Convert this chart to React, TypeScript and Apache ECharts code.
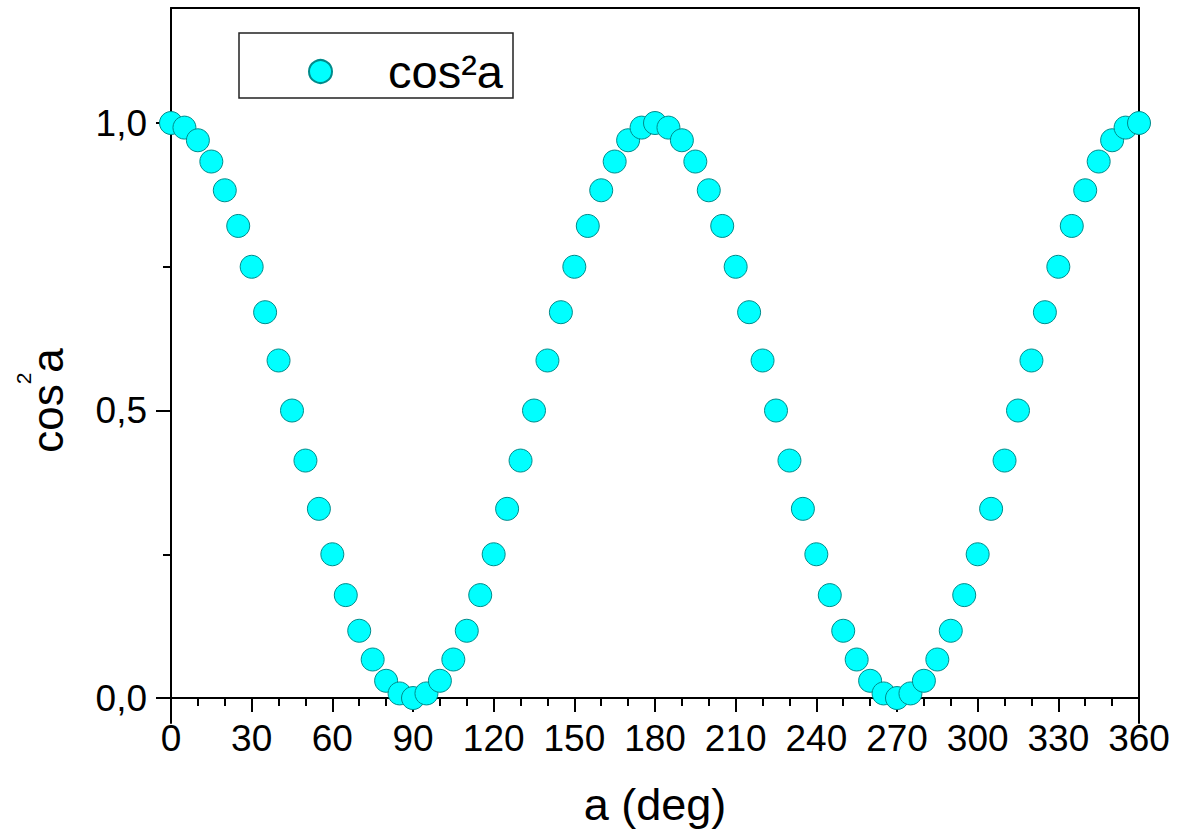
import React, { useEffect, useRef } from "react";
import * as echarts from "echarts";

const FONT = "'Liberation Sans', Arial, sans-serif";

const angles = [
  0, 5, 10, 15, 20, 25, 30, 35, 40, 45, 50, 55, 60, 65, 70, 75, 80, 85, 90,
  95, 100, 105, 110, 115, 120, 125, 130, 135, 140, 145, 150, 155, 160, 165, 170, 175, 180,
  185, 190, 195, 200, 205, 210, 215, 220, 225, 230, 235, 240, 245, 250, 255, 260, 265, 270,
  275, 280, 285, 290, 295, 300, 305, 310, 315, 320, 325, 330, 335, 340, 345, 350, 355, 360,
];

const cos2 = [
  1.0, 0.992, 0.97, 0.933, 0.883, 0.821, 0.75, 0.671, 0.587, 0.5, 0.413, 0.329, 0.25, 0.179, 0.117, 0.067, 0.03, 0.008, 0.0,
  0.008, 0.03, 0.067, 0.117, 0.179, 0.25, 0.329, 0.413, 0.5, 0.587, 0.671, 0.75, 0.821, 0.883, 0.933, 0.97, 0.992, 1.0,
  0.992, 0.97, 0.933, 0.883, 0.821, 0.75, 0.671, 0.587, 0.5, 0.413, 0.329, 0.25, 0.179, 0.117, 0.067, 0.03, 0.008, 0.0,
  0.008, 0.03, 0.067, 0.117, 0.179, 0.25, 0.329, 0.413, 0.5, 0.587, 0.671, 0.75, 0.821, 0.883, 0.933, 0.97, 0.992, 1.0,
];

const yMajorTicks = [0, 0.5, 1.0];
const yMinorTicks = [0.25, 0.75];
const seriesName = "cos²a";

export default function App() {
  const ref = useRef<HTMLDivElement>(null);

  useEffect(() => {
    document.body.style.margin = "0";
    if (!ref.current) return;
    const chart = echarts.init(ref.current, undefined, { renderer: "svg" });
    const axisLineStyle = { color: "#000", width: 2 };
    const data = angles.map((a, i) => [a, cos2[i]]);

    chart.setOption({
      animation: false,
      backgroundColor: "#fff",
      textStyle: { fontFamily: FONT },
      grid: { left: 171, right: 60, top: 8, bottom: 115, outerBoundsMode: "none", containLabel: false },
      legend: {
        left: 308,
        top: 48,
        padding: 0,
        icon: "circle",
        itemWidth: 23,
        itemHeight: 23,
        data: [seriesName],
        formatter: (name: string) => "{g| }{b|" + name + "}",
        textStyle: {
          color: "#000",
          fontFamily: FONT,
          rich: {
            g: { width: 51, fontSize: 46, lineHeight: 50 },
            b: { fontSize: 47, lineHeight: 50, color: "#000", fontFamily: FONT },
          },
        },
      },
      graphic: [
        {
          type: "rect",
          shape: { x: 239, y: 33, width: 274, height: 65 },
          style: { fill: "none", stroke: "#222", lineWidth: 1.5 },
          silent: true,
        },
      ],
      xAxis: [
        {
          type: "value",
          min: 0,
          max: 360,
          interval: 30,
          position: "bottom",
          axisLine: { show: true, onZero: true, lineStyle: axisLineStyle },
          axisTick: { show: true, length: 14, lineStyle: axisLineStyle },
          minorTick: { show: true, splitNumber: 3, length: 8, lineStyle: axisLineStyle },
          axisLabel: { fontSize: 37, color: "#000", margin: -3, fontFamily: FONT },
          splitLine: { show: false },
          minorSplitLine: { show: false },
          name: "a (deg)",
          nameLocation: "middle",
          nameGap: 59,
          nameTextStyle: { fontSize: 45, color: "#000", fontFamily: FONT },
        },
        {
          type: "value",
          min: 0,
          max: 360,
          position: "top",
          axisLine: { show: true, onZero: false, lineStyle: axisLineStyle },
          axisTick: { show: false },
          axisLabel: { show: false },
          splitLine: { show: false },
        },
      ],
      yAxis: [
        {
          type: "value",
          min: -0.0434,
          max: 1.2,
          position: "left",
          axisLine: { show: true, onZero: false, lineStyle: axisLineStyle },
          axisTick: { show: true, length: 15, customValues: yMajorTicks, lineStyle: axisLineStyle },
          axisLabel: {
            customValues: yMajorTicks,
            fontSize: 37,
            color: "#000",
            margin: 24,
            fontFamily: FONT,
            formatter: (v: number) => v.toFixed(1).replace(".", ","),
          },
          splitLine: { show: false },
          name: "{b|cos}{s|2}{b|a}",
          nameLocation: "middle",
          nameRotate: 90,
          nameGap: 101,
          nameTextStyle: {
            color: "#000",
            fontFamily: FONT,
            padding: [0, 70, 0, 0],
            rich: {
              b: { fontSize: 44, lineHeight: 46, color: "#000", fontFamily: FONT },
              s: { fontSize: 21, lineHeight: 16, padding: [0, 0, 48, 0], color: "#000", fontFamily: FONT },
            },
          },
        },
        {
          type: "value",
          min: -0.0434,
          max: 1.2,
          position: "right",
          axisLine: { show: true, onZero: false, lineStyle: axisLineStyle },
          axisTick: { show: false },
          axisLabel: { show: false },
          splitLine: { show: false },
        },
        {
          type: "value",
          min: -0.0434,
          max: 1.2,
          position: "left",
          axisLine: { show: false, onZero: false },
          axisTick: { show: true, length: 8, customValues: yMinorTicks, lineStyle: axisLineStyle },
          axisLabel: { show: false },
          splitLine: { show: false },
        },
      ],
      series: [
        {
          name: seriesName,
          type: "scatter",
          xAxisIndex: 0,
          yAxisIndex: 0,
          data,
          symbol: "circle",
          symbolSize: 23,
          clip: true,
          itemStyle: { color: "#00FFFF", borderColor: "#008B8B", borderWidth: 1, opacity: 1 },
        },
      ],
    });

    return () => chart.dispose();
  }, []);

  return <div ref={ref} style={{ width: 1199, height: 838 }} />;
}
